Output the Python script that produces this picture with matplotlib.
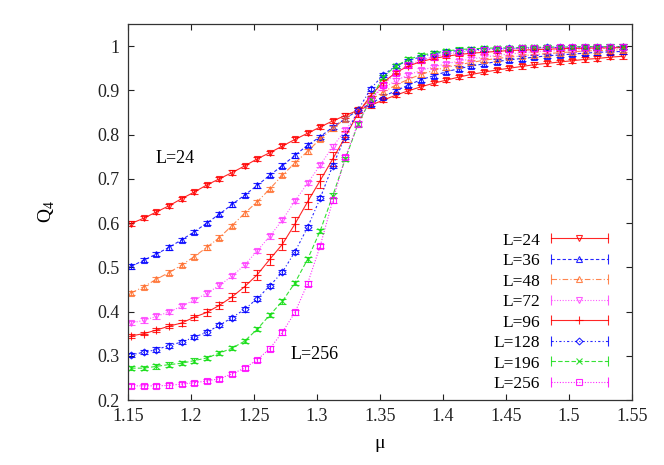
import numpy as np
import matplotlib
matplotlib.use("Agg")
import matplotlib.pyplot as plt
from matplotlib.lines import Line2D
from matplotlib.legend_handler import HandlerLine2D, HandlerTuple

# --- data (40 mu points per lattice size) ---
mu = [1.1525, 1.1625, 1.1725, 1.1825, 1.1925, 1.2025, 1.2125, 1.2225, 1.2325, 1.2425,
      1.2525, 1.2625, 1.2725, 1.2825, 1.2925, 1.3025, 1.3125, 1.3225, 1.3325, 1.3425,
      1.3525, 1.3625, 1.3725, 1.3825, 1.3925, 1.4025, 1.4125, 1.4225, 1.4325, 1.4425,
      1.4525, 1.4625, 1.4725, 1.4825, 1.4925, 1.5025, 1.5125, 1.5225, 1.5325, 1.5425]

q_L24 = [0.599, 0.611, 0.625, 0.639, 0.655, 0.670, 0.686, 0.700, 0.714, 0.729,
         0.745, 0.759, 0.774, 0.789, 0.803, 0.817, 0.831, 0.843, 0.855, 0.866,
         0.878, 0.889, 0.899, 0.908, 0.916, 0.923, 0.930, 0.936, 0.941, 0.946,
         0.950, 0.954, 0.958, 0.961, 0.964, 0.967, 0.970, 0.972, 0.975, 0.977]
q_L36 = [0.502, 0.516, 0.530, 0.545, 0.562, 0.580, 0.600, 0.620, 0.642, 0.663,
         0.685, 0.708, 0.730, 0.753, 0.776, 0.795, 0.817, 0.836, 0.855, 0.870,
         0.886, 0.899, 0.912, 0.924, 0.933, 0.942, 0.949, 0.955, 0.960, 0.965,
         0.969, 0.972, 0.975, 0.978, 0.980, 0.982, 0.984, 0.986, 0.987, 0.988]
q_L48 = [0.442, 0.456, 0.473, 0.488, 0.505, 0.524, 0.545, 0.567, 0.594, 0.622,
         0.648, 0.677, 0.708, 0.736, 0.762, 0.790, 0.814, 0.836, 0.857, 0.878,
         0.896, 0.912, 0.925, 0.936, 0.945, 0.952, 0.958, 0.963, 0.968, 0.972,
         0.975, 0.978, 0.981, 0.983, 0.985, 0.987, 0.989, 0.990, 0.991, 0.992]
q_L72 = [0.374, 0.380, 0.389, 0.399, 0.412, 0.426, 0.441, 0.459, 0.480, 0.505,
         0.537, 0.570, 0.607, 0.650, 0.690, 0.731, 0.773, 0.810, 0.848, 0.882,
         0.905, 0.922, 0.935, 0.945, 0.953, 0.960, 0.966, 0.971, 0.975, 0.979,
         0.982, 0.985, 0.987, 0.989, 0.990, 0.992, 0.993, 0.994, 0.995, 0.996]
q_L96 = [0.345, 0.350, 0.358, 0.367, 0.374, 0.387, 0.398, 0.414, 0.433, 0.456,
         0.483, 0.518, 0.552, 0.598, 0.648, 0.696, 0.745, 0.795, 0.848, 0.888,
         0.918, 0.940, 0.955, 0.965, 0.972, 0.977, 0.981, 0.984, 0.986, 0.988,
         0.990, 0.991, 0.992, 0.993, 0.994, 0.995, 0.995, 0.996, 0.996, 0.997]
q_L128 = [0.302, 0.308, 0.314, 0.323, 0.331, 0.342, 0.353, 0.369, 0.386, 0.405,
          0.429, 0.458, 0.489, 0.535, 0.590, 0.656, 0.730, 0.795, 0.855, 0.903,
          0.935, 0.955, 0.967, 0.976, 0.983, 0.987, 0.990, 0.992, 0.993, 0.994,
          0.995, 0.996, 0.996, 0.997, 0.997, 0.998, 0.998, 0.998, 0.999, 0.999]
q_L196 = [0.272, 0.272, 0.276, 0.280, 0.283, 0.289, 0.295, 0.306, 0.317, 0.333,
          0.360, 0.392, 0.423, 0.465, 0.518, 0.582, 0.662, 0.745, 0.823, 0.880,
          0.930, 0.955, 0.970, 0.979, 0.985, 0.989, 0.992, 0.994, 0.995, 0.996,
          0.996, 0.997, 0.997, 0.998, 0.998, 0.998, 0.999, 0.999, 0.999, 0.999]
q_L256 = [0.232, 0.232, 0.232, 0.233, 0.236, 0.239, 0.243, 0.248, 0.259, 0.272,
          0.291, 0.316, 0.353, 0.398, 0.463, 0.548, 0.651, 0.749, 0.825, 0.878,
          0.912, 0.940, 0.957, 0.968, 0.976, 0.982, 0.986, 0.989, 0.991, 0.993,
          0.994, 0.995, 0.996, 0.996, 0.997, 0.997, 0.998, 0.998, 0.998, 0.999]

# error bars: L=96 has the large ones, the others stay small
err_L96 = [0.004, 0.004, 0.005, 0.005, 0.006, 0.006, 0.007, 0.008, 0.009, 0.011,
           0.012, 0.013, 0.014, 0.016, 0.017, 0.016, 0.015, 0.012, 0.008, 0.006,
           0.005, 0.004, 0.004, 0.004, 0.004, 0.004, 0.004, 0.004, 0.004, 0.004,
           0.004, 0.004, 0.004, 0.004, 0.004, 0.004, 0.004, 0.004, 0.004, 0.004]
err_small = 0.005

labels = ["L=24", "L=36", "L=48", "L=72", "L=96", "L=128", "L=196", "L=256"]
series = [q_L24, q_L36, q_L48, q_L72, q_L96, q_L128, q_L196, q_L256]
errors = [err_small, err_small, err_small, err_small, err_L96, err_small, err_small, err_small]

colors = ["#ff0000", "#0000ff", "#ff7030", "#ff40ff", "#ff0000", "#0000ff", "#11dd11", "#ff00ff"]
markers = ["v", "^", "^", "v", "+", "D", "x", "s"]
msizes = [5, 5, 5, 5, 6, 3.5, 5, 5]
styles = ["-", (0, (3, 2)), (0, (5, 2, 1, 2)), (0, (1, 1.5)), "-", (0, (2, 2, 1, 2)), (0, (4, 2)), (0, (1, 1.5))]

plt.rcParams['font.family'] = ['Liberation Serif', 'DejaVu Serif']
plt.rcParams['mathtext.fontset'] = 'custom'
plt.rcParams['mathtext.rm'] = 'Liberation Serif'

fig = plt.figure(figsize=(6.64, 4.65), dpi=100)
ax = fig.add_axes([128 / 664, 65 / 465, 504 / 664, 376 / 465])

handles = []
handler_map = {}
for q, e, lab, c, m, ms, ls in zip(series, errors, labels, colors, markers, msizes, styles):
    ax.errorbar(mu, q, yerr=e, color=c, linestyle=ls, linewidth=0.8,
                marker=m, markersize=ms, markerfacecolor='none', markeredgewidth=0.8,
                elinewidth=0.8, capsize=3, capthick=0.8, alpha=0.85)
    # gnuplot-style key entry: line with caps at both ends and the point in the middle
    caps = Line2D([], [], color=c, linestyle=ls, linewidth=0.8, marker='|',
                  markersize=7, markeredgewidth=0.8, alpha=0.85)
    pt = Line2D([], [], color=c, linestyle='none', marker=m, markersize=ms,
                markerfacecolor='none', markeredgewidth=0.8, alpha=0.85)
    handler_map[caps] = HandlerLine2D(numpoints=2, marker_pad=0)
    handles.append((caps, pt))

handler_map[tuple] = HandlerTuple(ndivide=1, pad=0)

ax.set_xlim(1.15, 1.55)
ax.set_ylim(0.2, 1.05)
ax.set_xticks([1.15, 1.2, 1.25, 1.3, 1.35, 1.4, 1.45, 1.5, 1.55])
ax.set_xticklabels(["1.15", "1.2", "1.25", "1.3", "1.35", "1.4", "1.45", "1.5", "1.55"])
ax.set_yticks([0.2, 0.3, 0.4, 0.5, 0.6, 0.7, 0.8, 0.9, 1.0])
ax.set_yticklabels(["0.2", "0.3", "0.4", "0.5", "0.6", "0.7", "0.8", "0.9", "1"])
ax.tick_params(direction='in', length=4.5, width=0.8, top=True, right=True,
               labelsize=13, pad=6, colors='#222222')
for sp in ax.spines.values():
    sp.set_linewidth(0.9)
    sp.set_color('#333333')

ax.set_xlabel("μ", fontsize=14, labelpad=7)
ax.set_ylabel(r"Q$_4$", fontsize=14, labelpad=29)

ax.text(1.1715, 0.745, "L=24", fontsize=13, va='center', ha='left')
ax.text(1.279, 0.302, "L=256", fontsize=13, va='center', ha='left')

leg = ax.legend(handles, labels, handler_map=handler_map, loc='lower right',
                bbox_to_anchor=(608 / 664, 73 / 465), bbox_transform=fig.transFigure,
                frameon=False, markerfirst=False, fontsize=12.5, handlelength=3.3,
                handletextpad=0.6, labelspacing=0.25, borderpad=0, borderaxespad=0)

fig.savefig("out.png", dpi=100)
